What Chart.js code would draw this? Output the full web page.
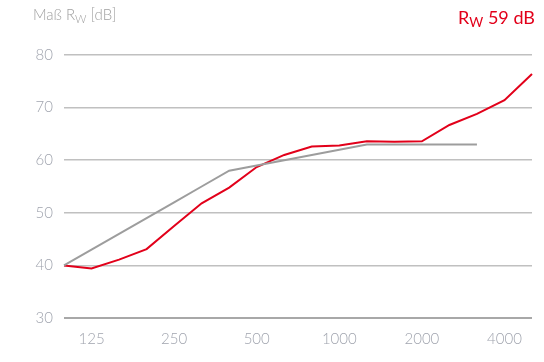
<!DOCTYPE html>
<html>
<head>
<meta charset="utf-8">
<script src="https://cdn.jsdelivr.net/npm/chart.js@4"></script>
<style>
  body { margin: 0; background: #fff; }
  #wrap { position: relative; width: 544px; height: 362px; }
  canvas { position: absolute; left: 0; top: 0; }
  .label { position: absolute; font-family: Lato, sans-serif; white-space: nowrap; }
  #yTitle { left: 33px; top: 5px; font-size: 15px; font-weight: 300; color: #a0a0a0; }
  #rw { right: 9px; top: 6px; font-size: 18px; font-weight: 400; color: #e2001a; }
  sub { font-size: 0.75em; vertical-align: -0.25em; }
</style>
</head>
<body>
<div id="wrap">
  <canvas id="myChart" width="544" height="362"></canvas>
  <div class="label" id="yTitle">Maß R<sub>W</sub> [dB]</div>
  <div class="label" id="rw">R<sub>W</sub> 59 dB</div>
</div>
<script>
// third-octave bands, Hz
const frequencies = [100, 125, 160, 200, 250, 315, 400, 500, 630, 800, 1000, 1250, 1600, 2000, 2500, 3150, 4000, 5000];
const shownTicks = [125, 250, 500, 1000, 2000, 4000];

// measured sound reduction (red)
const measured = [40, 39.4, 41.1, 43.1, 47.5, 51.8, 54.8, 58.7, 61.0, 62.6, 62.8, 63.6, 63.5, 63.6, 66.7, 68.8, 71.4, 76.4];
// shifted reference curve (grey), ends at 3150 Hz
const reference = [40, 43, 46, 49, 52, 55, 58, 59, 60, 61, 62, 63, 63, 63, 63, 63, null, null];

const yTicks = [30, 40, 50, 60, 70, 80];

const tickFont = { family: 'Lato', size: 15, weight: 300 };

const ctx = document.getElementById('myChart').getContext('2d');
new Chart(ctx, {
  type: 'line',
  data: {
    labels: frequencies,
    datasets: [{
      label: 'Bezugskurve',
      data: reference,
      borderColor: '#9d9d9d',
      borderWidth: 2,
      pointRadius: 0,
      tension: 0,
      spanGaps: false
    }, {
      label: 'Messung',
      data: measured,
      borderColor: '#e2001a',
      borderWidth: 2,
      pointRadius: 0,
      tension: 0
    }]
  },
  options: {
    responsive: false,
    animation: false,
    layout: { padding: { top: 55, right: 8, left: 0, bottom: 0 } },
    plugins: { legend: { display: false }, tooltip: { enabled: false } },
    scales: {
      x: {
        type: 'category',
        offset: false,
        grid: { display: false, drawTicks: false },
        border: { display: false },
        afterFit: (scale) => { scale.height = 44; },
        ticks: {
          autoSkip: false,
          maxRotation: 0,
          padding: 12,
          color: '#a0a4ae',
          font: tickFont,
          callback: function (value) {
            const f = frequencies[value];
            return shownTicks.includes(f) ? String(f) : '';
          }
        }
      },
      y: {
        min: yTicks[0],
        max: yTicks[yTicks.length - 1],
        afterFit: (scale) => { scale.width = 64; },
        afterBuildTicks: (scale) => { scale.ticks = yTicks.map(v => ({ value: v })); },
        grid: {
          drawTicks: false,
          color: (c) => c.tick && c.tick.value === 30 ? '#a8a8a8' : '#c0c0c0',
          lineWidth: (c) => c.tick && c.tick.value === 30 ? 2 : 1.5
        },
        border: { display: false },
        ticks: {
          padding: 11,
          color: '#a0a4ae',
          font: tickFont
        }
      }
    }
  }
});
</script>
</body>
</html>
